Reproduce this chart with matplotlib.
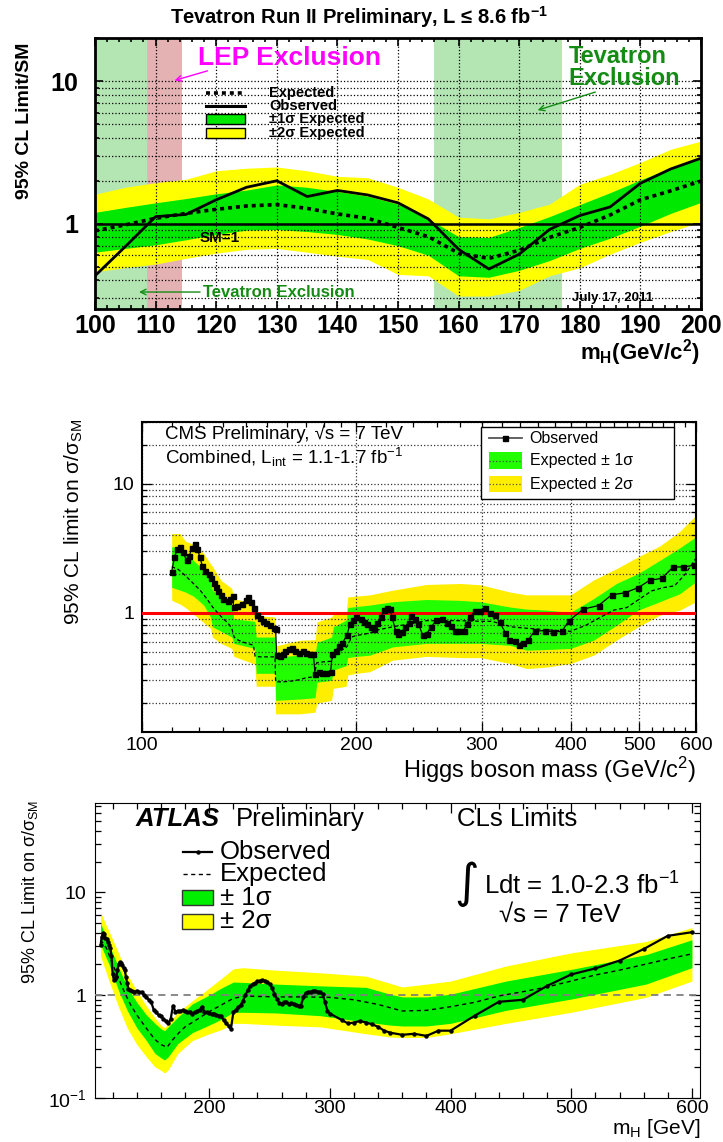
import matplotlib
matplotlib.use("Agg")
import matplotlib.pyplot as plt
from matplotlib.patches import Rectangle
from matplotlib.ticker import MultipleLocator, NullFormatter

plt.rcParams['font.family'] = ['Liberation Sans', 'DejaVu Sans']
plt.rcParams['mathtext.default'] = 'regular'

# ---------------- Tevatron combination (top) ----------------
tev_mass = [100, 105, 110, 115, 120, 125, 130, 135, 140, 145, 150,
            155, 160, 165, 170, 175, 180, 185, 190, 195, 200]
tev_obs = [0.43, 0.69, 1.12, 1.16, 1.47, 1.80, 2.00, 1.55, 1.71, 1.59, 1.40,
           1.08, 0.66, 0.48, 0.61, 0.91, 1.14, 1.31, 1.92, 2.42, 2.88]
tev_exp = [0.89, 0.98, 1.09, 1.18, 1.26, 1.33, 1.36, 1.28, 1.17, 1.09, 0.94,
           0.81, 0.62, 0.57, 0.65, 0.80, 0.94, 1.15, 1.47, 1.70, 1.99]
tev_1s_hi = [1.20, 1.30, 1.40, 1.50, 1.62, 1.72, 1.87, 1.80, 1.68, 1.56, 1.37,
             1.08, 0.81, 0.80, 0.94, 1.12, 1.36, 1.65, 2.03, 2.45, 2.85]
tev_1s_lo = [0.63, 0.67, 0.71, 0.77, 0.84, 0.90, 0.91, 0.88, 0.84, 0.78, 0.70,
             0.60, 0.43, 0.42, 0.47, 0.55, 0.67, 0.79, 0.96, 1.18, 1.41]
tev_2s_hi = [1.61, 1.80, 1.94, 2.05, 2.35, 2.45, 2.50, 2.35, 2.15, 2.10, 1.80,
             1.49, 1.11, 1.08, 1.20, 1.37, 1.89, 2.22, 2.69, 3.33, 3.80]
tev_2s_lo = [0.46, 0.49, 0.52, 0.57, 0.62, 0.66, 0.67, 0.63, 0.59, 0.56, 0.44,
             0.43, 0.31, 0.31, 0.34, 0.43, 0.49, 0.61, 0.74, 0.88, 1.03]

# ---------------- CMS combination (middle) ----------------
cms_obs_m = [110, 111, 112, 113, 114, 115.5, 116.5, 117.5, 118.5, 119.5,
             120.5, 121.5, 122.5, 124, 125, 126, 127, 128, 129, 130,
             132, 133, 134, 134.5, 136, 138, 140, 141, 142, 143.5,
             145, 146.5, 148, 149.5, 151, 153, 154, 154.5, 156, 157.5,
             159, 161, 162.5, 164, 166, 168, 170, 172, 174, 175,
             177, 179, 181, 184, 185, 187, 189, 191, 194, 196,
             198, 200, 203, 205, 207, 209.5, 212, 214, 216.5, 219,
             221, 223, 224.5, 227, 229, 232, 234, 237, 239, 242,
             244.5, 248, 251, 255, 259, 264, 268, 272, 275, 278,
             283, 286, 289, 294, 298, 303, 308, 313, 318, 324,
             328, 334, 339, 343, 349, 356, 368, 378, 389, 398,
             417, 438, 457, 477, 498, 517, 537, 558, 576, 597]
cms_obs = [2.09, 2.69, 3.12, 3.23, 2.95, 2.56, 2.78, 3.21, 3.39, 3.14,
           2.72, 2.30, 2.12, 2.00, 1.87, 1.71, 1.59, 1.48, 1.37, 1.28,
           1.24, 1.28, 1.35, 1.11, 1.14, 1.18, 1.25, 1.33, 1.22, 1.10,
           0.97, 0.91, 0.87, 0.84, 0.80, 0.77, 0.75, 0.47, 0.467, 0.484,
           0.508, 0.523, 0.53, 0.508, 0.49, 0.508, 0.49, 0.484, 0.478, 0.333,
           0.349, 0.343, 0.343, 0.349, 0.478, 0.508, 0.552, 0.579, 0.672, 0.827,
           0.888, 0.921, 0.904, 0.852, 0.817, 0.779, 0.756, 0.837, 0.93, 1.06,
           1.10, 1.08, 0.93, 0.726, 0.692, 0.713, 0.779, 0.837, 0.943, 0.904,
           0.817, 0.67, 0.69, 0.78, 0.88, 0.90, 0.83, 0.79, 0.72, 0.73,
           0.73, 0.82, 0.93, 1.04, 1.04, 1.10, 1.00, 0.96, 0.85, 0.70,
           0.62, 0.61, 0.56, 0.58, 0.62, 0.72, 0.73, 0.71, 0.72, 0.87,
           1.07, 1.14, 1.38, 1.43, 1.57, 1.79, 1.85, 2.27, 2.27, 2.34]
cms_exp_m = [110, 112.4, 115.5, 118, 120.6, 123.2, 125.6, 127.9, 130, 132.1,
             133.6, 134.6, 136.5, 139.5, 143.3, 144.1, 146.4, 151.2, 153.7, 154,
             157.1, 161.4, 166.7, 170.2, 174.4, 175.9, 179.7, 184.6, 185.6, 190.8,
             193.9, 197, 200.3, 204.5, 209.1, 215, 225, 240, 251, 280,
             299, 310, 320, 330, 347, 370, 400, 420, 440, 460,
             480, 500, 520, 540, 560, 580, 600]
cms_exp = [2.28, 2.17, 1.90, 1.69, 1.50, 1.29, 1.11, 0.99, 0.90, 0.83,
           0.76, 0.65, 0.614, 0.586, 0.562, 0.461, 0.456, 0.456, 0.456, 0.292,
           0.292, 0.295, 0.304, 0.315, 0.319, 0.41, 0.417, 0.422, 0.47, 0.514,
           0.545, 0.65, 0.67, 0.68, 0.70, 0.74, 0.78, 0.83, 0.87, 0.87,
           0.86, 0.86, 0.82, 0.78, 0.76, 0.74, 0.72, 0.80, 0.92, 1.05,
           1.10, 1.28, 1.48, 1.57, 1.62, 2.00, 2.65]
cms_band_m = [110, 113, 115, 118, 122, 124.7, 125.5, 129, 133.6, 134.5,
              144, 144.6, 153.7, 154, 166.7, 175, 176, 184.6, 185.6, 193.5,
              194.5, 200, 209, 225, 251, 280, 299, 329, 347, 370,
              400, 431, 464, 498, 534, 570, 600]
cms_2s_hi = [4.12, 4.12, 3.6, 3.4, 2.9, 2.4, 2.3, 1.79, 1.55, 1.29,
             1.18, 0.95, 0.93, 0.555, 0.614, 0.62, 0.85, 0.93, 0.99, 0.99,
             1.33, 1.35, 1.38, 1.5, 1.66, 1.69, 1.65, 1.45, 1.38, 1.38,
             1.38, 1.8, 2.2, 2.72, 3.3, 4.3, 5.7]
cms_1s_hi = [3.25, 3.25, 2.95, 2.55, 2.15, 1.79, 1.5, 1.35, 1.17, 0.90,
             0.86, 0.65, 0.65, 0.456, 0.47, 0.48, 0.59, 0.65, 0.78, 0.88,
             1.10, 1.12, 1.15, 1.22, 1.27, 1.25, 1.22, 1.11, 1.07, 1.05,
             1.01, 1.29, 1.69, 2.02, 2.55, 3.2, 3.88]
cms_1s_lo = [1.58, 1.50, 1.45, 1.35, 1.15, 0.93, 0.78, 0.72, 0.65, 0.58,
             0.53, 0.34, 0.34, 0.21, 0.215, 0.22, 0.29, 0.30, 0.36, 0.39,
             0.45, 0.46, 0.47, 0.545, 0.58, 0.58, 0.58, 0.56, 0.514, 0.52,
             0.53, 0.614, 0.80, 1.05, 1.22, 1.41, 1.74]
cms_2s_lo = [1.25, 1.17, 1.10, 0.98, 0.84, 0.76, 0.65, 0.58, 0.53, 0.46,
             0.40, 0.27, 0.27, 0.165, 0.165, 0.17, 0.20, 0.21, 0.26, 0.27,
             0.33, 0.34, 0.35, 0.43, 0.46, 0.45, 0.45, 0.405, 0.37, 0.38,
             0.405, 0.47, 0.614, 0.78, 0.96, 1.05, 1.22]

# ---------------- ATLAS combination (bottom) ----------------
atlas_obs_m = [110, 111, 112, 113, 114, 115, 116, 117, 118, 119,
               120, 121, 122, 123, 124, 125, 126, 127, 128, 129,
               130, 131, 132, 133, 134, 136, 138, 140, 142, 144,
               146, 148, 150, 152, 154, 156, 158, 160, 162, 164,
               166, 168, 170, 172, 174, 176, 178, 180, 182, 184,
               186, 188, 190, 192, 194, 196, 198, 200, 202, 204,
               206, 208, 210, 212, 214, 216, 218, 220, 222, 224,
               226, 228, 230, 232, 234, 236, 238, 240, 242, 244,
               246, 248, 250, 252, 254, 256, 258, 260, 262, 264,
               266, 268, 270, 272, 274, 276, 278, 280, 282, 284,
               286, 288, 290, 292, 294, 296, 298, 300, 310, 315,
               320, 325, 330, 335, 340, 345, 350, 360, 370, 380,
               390, 400, 420, 440, 460, 480, 500, 520, 540, 560,
               580, 600]
atlas_obs = [3.1, 3.7, 4.0, 3.9, 3.6, 3.5, 3.3, 3.1, 2.9, 2.4,
             1.6, 1.4, 1.45, 1.5, 1.75, 2.0, 2.1, 2.05, 1.95, 1.85,
             1.75, 1.5, 1.3, 1.15, 1.12, 1.10, 1.08, 1.10, 1.06, 1.06,
             1.00, 0.95, 0.90, 0.85, 0.72, 0.68, 0.64, 0.62, 0.59, 0.56,
             0.53, 0.58, 0.79, 0.69, 0.70, 0.70, 0.71, 0.70, 0.68, 0.69,
             0.66, 0.68, 0.70, 0.72, 0.77, 0.69, 0.68, 0.67, 0.66, 0.66,
             0.64, 0.63, 0.62, 0.57, 0.53, 0.50, 0.47, 0.68, 0.72, 0.76,
             0.80, 0.88, 1.00, 1.12, 1.22, 1.28, 1.30, 1.36, 1.38, 1.40,
             1.38, 1.34, 1.28, 1.18, 1.03, 0.92, 0.84, 0.82, 0.85, 0.86,
             0.82, 0.84, 0.82, 0.80, 0.79, 0.79, 0.95, 1.05, 1.07, 1.08,
             1.10, 1.10, 1.08, 1.06, 1.02, 0.85, 0.70, 0.66, 0.57, 0.53,
             0.54, 0.56, 0.54, 0.52, 0.49, 0.45, 0.43, 0.41, 0.42, 0.40,
             0.45, 0.45, 0.63, 0.86, 0.90, 1.23, 1.59, 1.82, 2.17, 2.81,
             3.78, 4.10]
atlas_exp_m = [110, 115, 120, 125, 130, 135, 140, 145, 150, 155,
               160, 165, 170, 175, 180, 190, 200, 210, 220, 230,
               240, 260, 280, 300, 320, 340, 360, 380, 400, 420,
               440, 460, 480, 500, 520, 540, 560, 580, 600]
atlas_exp = [3.46, 2.85, 2.0, 1.45, 1.05, 0.80, 0.64, 0.53, 0.44, 0.37,
             0.33, 0.31, 0.37, 0.43, 0.49, 0.58, 0.69, 0.80, 0.93, 0.98,
             0.97, 0.96, 0.96, 0.95, 0.90, 0.81, 0.70, 0.71, 0.77, 0.85,
             0.98, 1.08, 1.20, 1.37, 1.57, 1.75, 1.98, 2.25, 2.52]
atlas_band_m = [110, 117, 125, 132, 140, 148, 155, 160, 163, 166,
                174, 186, 200, 210, 220, 228, 255, 292, 330, 350,
                360, 380, 400, 446, 500, 562, 600]
atlas_2s_hi = [6.4, 4.16, 2.55, 1.59, 1.10, 0.78, 0.60, 0.51, 0.48, 0.53,
               0.68, 0.88, 1.17, 1.45, 1.80, 1.85, 1.75, 1.65, 1.53, 1.30,
               1.20, 1.28, 1.37, 1.92, 2.58, 3.33, 4.55]
atlas_1s_hi = [5.0, 3.1, 1.85, 1.20, 0.85, 0.64, 0.53, 0.47, 0.45, 0.49,
               0.61, 0.82, 1.0, 1.17, 1.34, 1.33, 1.28, 1.23, 1.19, 1.02,
               0.96, 0.96, 1.02, 1.37, 1.78, 2.48, 3.46]
atlas_1s_lo = [3.1, 1.99, 1.1, 0.71, 0.48, 0.36, 0.27, 0.245, 0.233, 0.25,
               0.337, 0.43, 0.51, 0.58, 0.68, 0.68, 0.67, 0.63, 0.545, 0.51,
               0.50, 0.50, 0.53, 0.71, 0.915, 1.28, 1.85]
atlas_2s_lo = [2.39, 1.37, 0.76, 0.48, 0.33, 0.25, 0.20, 0.185, 0.174, 0.187,
               0.27, 0.36, 0.42, 0.46, 0.53, 0.53, 0.51, 0.49, 0.42, 0.39,
               0.386, 0.386, 0.42, 0.53, 0.68, 0.95, 1.37]


def log_minor(decades):
    return [m * 10.0 ** d for d in decades for m in range(2, 10)]


fig = plt.figure(figsize=(7.23, 11.42), dpi=100)

# ======================= Tevatron =======================
ax1 = fig.add_axes([0.1314, 0.7291, 0.8382, 0.2373])
tev_green = '#00e800'
shade = '#b4e6b4'
dark_green = '#148c14'
ax1.axvspan(100, 108.6, color=shade, lw=0, zorder=0)
ax1.axvspan(108.6, 114.4, color='#e4b2b2', lw=0, zorder=0)
ax1.axvspan(156, 177, color=shade, lw=0, zorder=0)
ax1.fill_between(tev_mass, tev_2s_lo, tev_2s_hi, color='#ffff00', lw=0, zorder=1)
ax1.fill_between(tev_mass, tev_1s_lo, tev_1s_hi, color=tev_green, lw=0, zorder=1)
ax1.plot(tev_mass, tev_exp, color='k', lw=2.6, ls=(0, (1.1, 1.1)), zorder=4)
ax1.plot(tev_mass, tev_obs, color='k', lw=2.0, zorder=4)
ax1.axhline(1, color='k', lw=1.8, zorder=4)
ax1.set_xlim(100, 200)
ax1.set_yscale('log')
ax1.xaxis.set_major_locator(MultipleLocator(10))
ax1.xaxis.set_minor_locator(MultipleLocator(2))
ax1.set_yticks([1, 10], labels=['1', '10'])
ax1.set_yticks(log_minor([-1, 0, 1]), minor=True)
ax1.yaxis.set_minor_formatter(NullFormatter())
ax1.set_ylim(0.25, 20)
ax1.grid(True, axis='x', which='major', ls=':', lw=0.9, color='k')
ax1.grid(True, axis='y', which='both', ls=':', lw=0.9, color='k')
ax1.tick_params(which='both', direction='in', top=True, right=True, width=1.2)
ax1.tick_params(which='major', length=6, labelsize=18)
ax1.tick_params(which='minor', length=3)
ax1.tick_params(axis='x', pad=3)
ax1.tick_params(axis='y', pad=12)
plt.setp(ax1.get_xticklabels() + ax1.get_yticklabels(), fontweight='bold')
for sp in ax1.spines.values():
    sp.set_linewidth(2)

tx = ax1.transAxes
ax1.plot([0.183, 0.248], [0.798, 0.798], transform=tx, color='k', lw=2.6,
         ls=(0, (1.1, 1.1)), zorder=6)
ax1.plot([0.183, 0.248], [0.750, 0.750], transform=tx, color='k', lw=2.2, zorder=6)
ax1.add_patch(Rectangle((0.183, 0.683), 0.065, 0.039, transform=tx,
                        fc=tev_green, ec='k', lw=1, zorder=6))
ax1.add_patch(Rectangle((0.183, 0.632), 0.065, 0.039, transform=tx,
                        fc='#ffff00', ec='k', lw=1, zorder=6))
for y, s in zip([0.798, 0.750, 0.702, 0.651],
                ['Expected', 'Observed', '±1σ Expected', '±2σ Expected']):
    ax1.text(0.287, y, s, transform=tx, fontsize=10.5, weight='bold', va='center', zorder=6)

ax1.text(0.170, 0.927, 'LEP Exclusion', transform=tx, color='#ff00ff',
         fontsize=19, weight='bold', va='center', zorder=6)
ax1.annotate('', xy=(0.127, 0.842), xytext=(0.190, 0.883), xycoords=tx,
             arrowprops=dict(arrowstyle='->', color='#ff00ff', lw=1))
ax1.text(0.781, 0.932, 'Tevatron', transform=tx, color=dark_green,
         fontsize=17, weight='bold', va='center', zorder=6)
ax1.text(0.781, 0.853, 'Exclusion', transform=tx, color=dark_green,
         fontsize=17, weight='bold', va='center', zorder=6)
ax1.annotate('', xy=(0.726, 0.732), xytext=(0.830, 0.805), xycoords=tx,
             arrowprops=dict(arrowstyle='->', color=dark_green, lw=1))
ax1.text(0.172, 0.263, 'SM=1', transform=tx, fontsize=11, weight='bold',
         va='center', zorder=6)
ax1.text(0.178, 0.064, 'Tevatron Exclusion', transform=tx, color=dark_green,
         fontsize=12, weight='bold', va='center', zorder=6)
ax1.annotate('', xy=(0.068, 0.064), xytext=(0.178, 0.064), xycoords=tx,
             arrowprops=dict(arrowstyle='->', color=dark_green, lw=1))
ax1.text(0.787, 0.042, 'July 17, 2011', transform=tx, fontsize=9.5,
         weight='bold', va='center', zorder=6)

fig.text(0.497, 0.985, 'Tevatron Run II Preliminary, L ≤ 8.6 fb$^{-1}$',
         ha='center', va='center', fontsize=14.5, weight='bold')
fig.text(0.034, 0.894, '95% CL Limit/SM', rotation=90, ha='center',
         va='center', fontsize=14, weight='bold')
fig.text(0.968, 0.6915, 'm$_{H}$(GeV/c$^{2}$)', ha='right', va='center',
         fontsize=16, weight='bold')

# ======================= CMS =======================
ax2 = fig.add_axes([0.1967, 0.3593, 0.7657, 0.2709])
ax2.fill_between(cms_band_m, cms_2s_lo, cms_2s_hi, color='#ffee00', lw=0, zorder=1)
ax2.fill_between(cms_band_m, cms_1s_lo, cms_1s_hi, color='#22ff00', lw=0, zorder=1)
ax2.axhline(1, color='#ff0000', lw=2.2, zorder=3)
ax2.plot(cms_exp_m, cms_exp, color='k', lw=0.9, ls=(0, (3, 2)), zorder=4)
ax2.plot(cms_obs_m, cms_obs, color='k', lw=0.9, marker='s', ms=3.6, zorder=5)
ax2.set_xscale('log')
ax2.set_yscale('log')
ax2.set_xticks([100, 200, 300, 400, 500, 600],
               labels=['100', '200', '300', '400', '500', '600'])
ax2.set_xticks(list(range(110, 200, 10)) +
               [m for m in range(220, 600, 20) if m not in (300, 400, 500)],
               minor=True)
ax2.xaxis.set_minor_formatter(NullFormatter())
ax2.set_yticks([1, 10], labels=['1', '10'])
ax2.set_yticks(log_minor([-1, 0, 1]), minor=True)
ax2.yaxis.set_minor_formatter(NullFormatter())
ax2.set_xlim(100, 600)
ax2.set_ylim(0.12, 30)
ax2.grid(True, axis='x', which='major', ls=':', lw=0.9, color='#333333')
ax2.grid(True, axis='y', which='both', ls=':', lw=0.9, color='#333333')
ax2.tick_params(which='both', direction='in', top=True, right=True, width=0.9)
ax2.tick_params(which='major', length=7, labelsize=14)
ax2.tick_params(which='minor', length=3.5)
ax2.tick_params(axis='x', pad=4)
ax2.tick_params(axis='y', pad=6)
for sp in ax2.spines.values():
    sp.set_linewidth(1.5)

t2 = ax2.transAxes
ax2.text(0.041, 0.965, 'CMS Preliminary, √s = 7 TeV', transform=t2,
         fontsize=13.5, va='center', zorder=6)
ax2.text(0.041, 0.888, 'Combined, L$_{int}$ = 1.1-1.7 fb$^{-1}$', transform=t2,
         fontsize=13.5, va='center', zorder=6)
ax2.add_patch(Rectangle((0.612, 0.753), 0.348, 0.233, transform=t2,
                        fc='white', ec='k', lw=1, zorder=6))
ax2.plot([0.626, 0.686], [0.948, 0.948], transform=t2, color='#555555', lw=1.3, zorder=7)
ax2.plot([0.656], [0.948], transform=t2, color='k', marker='s', ms=3.6, zorder=7)
ax2.add_patch(Rectangle((0.626, 0.850), 0.060, 0.053, transform=t2,
                        fc='#22ff00', lw=0, zorder=7))
ax2.add_patch(Rectangle((0.626, 0.774), 0.060, 0.053, transform=t2,
                        fc='#ffee00', lw=0, zorder=7))
ax2.plot([0.626, 0.686], [0.876, 0.876], transform=t2, color='#335533',
         lw=0.9, ls=':', zorder=8)
ax2.plot([0.626, 0.686], [0.800, 0.800], transform=t2, color='#555533',
         lw=0.9, ls=':', zorder=8)
for y, s in zip([0.948, 0.876, 0.800],
                ['Observed', 'Expected ± 1σ', 'Expected ± 2σ']):
    ax2.text(0.700, y, s, transform=t2, fontsize=11.5, va='center', zorder=8)

fig.text(0.102, 0.543, '95% CL limit on σ/σ$_{SM}$', rotation=90,
         ha='center', va='center', fontsize=15)
fig.text(0.962, 0.3262, 'Higgs boson mass (GeV/c$^{2}$)', ha='right',
         va='center', fontsize=17)

# ======================= ATLAS =======================
ax3 = fig.add_axes([0.1308, 0.0388, 0.8379, 0.2583])
ax3.fill_between(atlas_band_m, atlas_2s_lo, atlas_2s_hi, color='#ffff00', lw=0, zorder=1)
ax3.fill_between(atlas_band_m, atlas_1s_lo, atlas_1s_hi, color='#00ee00', lw=0, zorder=1)
ax3.axhline(1, color='#808080', lw=1.3, ls=(0, (4, 3)), zorder=3)
ax3.plot(atlas_exp_m, atlas_exp, color='k', lw=1.0, ls=(0, (3, 2.5)), zorder=4)
ax3.plot(atlas_obs_m, atlas_obs, color='k', lw=1.6, marker='o', ms=2.2, zorder=5)
ax3.set_yscale('log')
ax3.set_xlim(105, 607)
ax3.xaxis.set_major_locator(MultipleLocator(100))
ax3.xaxis.set_minor_locator(MultipleLocator(20))
ax3.set_yticks([0.1, 1, 10], labels=['10$^{-1}$', '1', '10'])
ax3.set_yticks(log_minor([-1, 0, 1]), minor=True)
ax3.yaxis.set_minor_formatter(NullFormatter())
ax3.set_ylim(0.1, 75)
ax3.tick_params(which='both', direction='in', top=True, right=True, width=0.9)
ax3.tick_params(which='major', length=7, labelsize=14)
ax3.tick_params(which='minor', length=4)
ax3.tick_params(axis='x', pad=1.5)
ax3.tick_params(axis='y', pad=6)

t3 = ax3.transAxes
big = 18.5
ax3.text(0.068, 0.945, 'ATLAS', transform=t3, fontsize=big, weight='bold',
         style='italic', va='center')
ax3.text(0.2326, 0.945, 'Preliminary', transform=t3, fontsize=big, va='center')
ax3.text(0.598, 0.945, 'CLs Limits', transform=t3, fontsize=big, va='center')
ax3.plot([0.146, 0.194], [0.832, 0.832], transform=t3, color='k', lw=1.6)
ax3.plot([0.170], [0.832], transform=t3, color='k', marker='o', ms=2.2)
ax3.plot([0.146, 0.194], [0.758, 0.758], transform=t3, color='k', lw=1.0,
         ls=(0, (3, 2.5)))
ax3.add_patch(Rectangle((0.145, 0.652), 0.051, 0.052, transform=t3,
                        fc='#00ee00', ec='#333333', lw=1))
ax3.add_patch(Rectangle((0.145, 0.572), 0.051, 0.052, transform=t3,
                        fc='#ffff00', ec='#333333', lw=1))
for y, s in zip([0.832, 0.758, 0.678, 0.598],
                ['Observed', 'Expected', '± 1σ', '± 2σ']):
    ax3.text(0.207, y, s, transform=t3, fontsize=big, va='center')
ax3.text(0.614, 0.722, '∫', transform=t3, fontsize=34, ha='center',
         va='center', family=['DejaVu Sans'])
ax3.text(0.643, 0.719, 'Ldt = 1.0-2.3 fb$^{-1}$', transform=t3, fontsize=big,
         va='center')
ax3.text(0.667, 0.619, '√s = 7 TeV', transform=t3, fontsize=big, va='center')

fig.text(0.041, 0.219, '95% CL Limit on σ/σ$_{SM}$', rotation=90,
         ha='center', va='center', fontsize=13)
fig.text(0.968, 0.002, 'm$_{H}$ [GeV]', ha='right', va='bottom', fontsize=15)

fig.savefig('out.png', dpi=100)
